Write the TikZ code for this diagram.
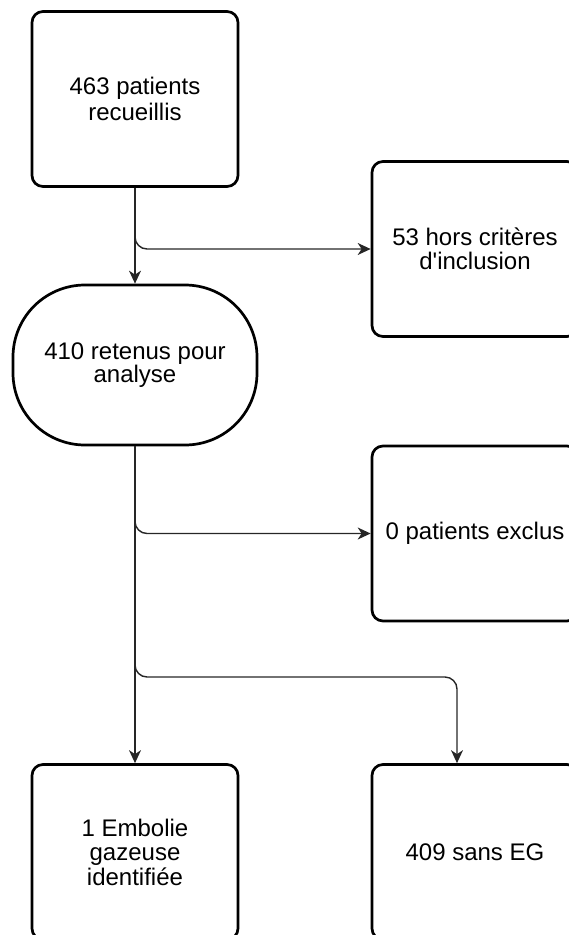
\documentclass[tikz,border=0pt]{standalone}
\usepackage{fontspec}
\setmainfont{Liberation Sans}
\usetikzlibrary{arrows.meta,calc}
\begin{document}
\begin{tikzpicture}[x=1pt,y=1pt,
  box/.style={draw=black, line width=2.7pt, rounded corners=11pt, fill=white,
    minimum width=206pt, minimum height=175pt, align=center, inner sep=2pt,
    font=\fontsize{24}{24.5}\selectfont},
  pill/.style={draw=black, line width=2.7pt, rounded corners=72pt, fill=white,
    minimum width=244pt, minimum height=160pt, align=center, inner sep=2pt,
    font=\fontsize{24}{23}\selectfont},
  conn/.style={draw=black!85, line width=1.4pt, rounded corners=12pt,
    -{Stealth[length=13pt,width=12pt,inset=4pt]}}]
\useasboundingbox (0,0) rectangle (569,-935);
\node[box, font=\fontsize{24}{26}\selectfont] (b1) at (135,-99) {463 patients\\recueillis};
\node[box] (b2) at (475,-249) {53 hors critères\\d\textquotesingle inclusion};
\node[pill] (p) at (135,-365) {410 retenus pour\\analyse};
\node[box] (b3) at (475,-533.5) {0 patients exclus};
\node[box] (b4) at (135,-852) {1 Embolie\\gazeuse\\identifiée};
\node[box] (b5) at (475,-852) {409 sans EG};
\coordinate (k) at (457,-677);
\draw[conn] (b1.south) -- (p.north);
\draw[conn] (b1.south) |- (b2.west);
\draw[conn] (p.south) |- (b3.west);
\draw[conn] (p.south) -- (b4.north);
\draw[conn] (p.south) |- (k) -- (k |- b5.north);
\end{tikzpicture}
\end{document}
